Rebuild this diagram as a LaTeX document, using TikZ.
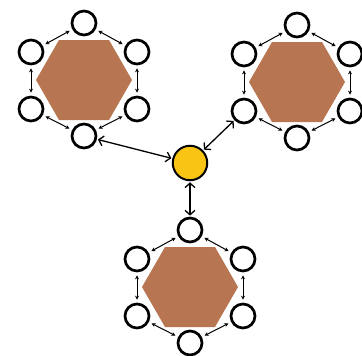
\documentclass[tikz,border=0pt]{standalone}
\usetikzlibrary{arrows.meta}
\definecolor{hexc}{RGB}{183,117,82}
\definecolor{sunc}{RGB}{250,196,20}
\tikzset{
  ring/.style={circle,draw=black,fill=white,line width=2.7pt,minimum size=24pt,inner sep=0pt},
  hub/.style={circle,draw=black,fill=sunc,line width=2pt,minimum size=34.5pt,inner sep=0pt},
  smallarr/.style={line width=1pt,{Stealth[length=4pt,width=4pt]}-{Stealth[length=4pt,width=4pt]},shorten <=3pt,shorten >=3pt},
  bigarr/.style={line width=1.3pt,{Straight Barb[length=4.5pt,width=10pt,line width=1.3pt]}-{Straight Barb[length=4.5pt,width=10pt,line width=1.3pt]},shorten <=1pt,shorten >=1pt},
  hexshape/.style={fill=hexc}
}
\newcommand\mycluster[3]{%
  \begin{scope}[shift={(#2,#3)}]
    \fill[hexshape] (-48,0)--(-25,-40)--(25,-40)--(48,0)--(25,40)--(-25,40)--cycle;
    \node[ring] (#1t) at (0,-57) {};
    \node[ring] (#1ul) at (-53,-28) {};
    \node[ring] (#1ur) at (53,-28) {};
    \node[ring] (#1ll) at (-53,29) {};
    \node[ring] (#1lr) at (53,29) {};
    \node[ring] (#1b) at (0,56) {};
    \draw[smallarr] (#1ul) -- (#1t);
    \draw[smallarr] (#1t) -- (#1ur);
    \draw[smallarr] (#1ul) -- (#1ll);
    \draw[smallarr] (#1ur) -- (#1lr);
    \draw[smallarr] (#1ll) -- (#1b);
    \draw[smallarr] (#1lr) -- (#1b);
  \end{scope}}
\begin{document}
\begin{tikzpicture}[x=1pt,y={(0pt,-1pt)}]
  \useasboundingbox (0,0) rectangle (362,356);
  \mycluster{a}{84}{80}
  \mycluster{b}{297}{82}
  \mycluster{c}{190}{287}
  \node[hub] (h) at (190,163) {};
  \draw[bigarr] (ab) -- (h);
  \draw[bigarr] (bll) -- (h);
  \draw[bigarr] (ct) -- (h);
\end{tikzpicture}
\end{document}
